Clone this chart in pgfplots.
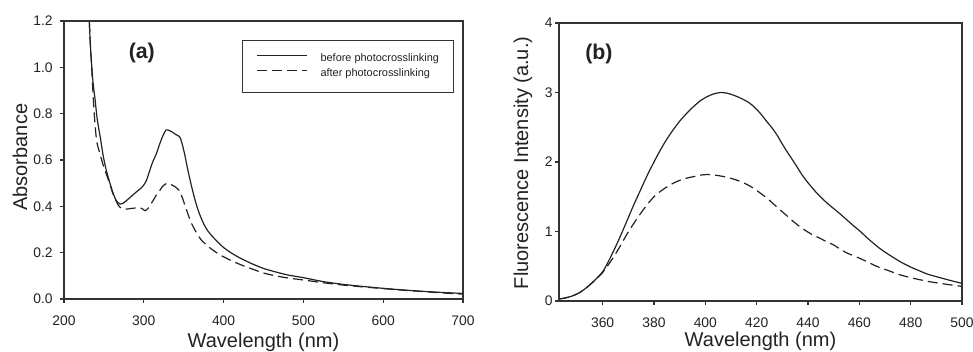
\documentclass[border=0pt]{standalone}
\usepackage{fontspec}
\setmainfont{Liberation Sans}
\usepackage{pgfplots}
\pgfplotsset{compat=1.18}
\definecolor{ink}{HTML}{222222}
\definecolor{axframe}{HTML}{333333}
\pgfplotsset{
  myaxis/.style={
    scale only axis,
    axis line style={draw=axframe, line width=0.9pt},
    tick align=outside,
    xtick pos=bottom, ytick pos=left,
    major tick length=2.8pt,
    tick style={draw=axframe, line width=0.8pt},
    minor tick num=0,
    /pgf/number format/assume math mode=true,
    tick label style={font=\fontsize{10.4}{12}\selectfont, text=ink},
    label style={font=\fontsize{15}{18}\selectfont, text=ink},
    clip=true,
  },
  solidline/.style={ink, line width=0.9pt, smooth, tension=0.4},
  dashline/.style={ink, line width=0.9pt, smooth, tension=0.4, dash pattern=on 7.5pt off 3.8pt},
}
\begin{document}
\begin{tikzpicture}
\useasboundingbox (0,0) rectangle (729.75pt,264pt);
% ---------------- panel (a) ----------------
\begin{axis}[myaxis, name=A,
  at={(48pt,39.75pt)}, anchor=south west,
  width=299.25pt, height=208.5pt,
  xmin=200, xmax=700, ymin=0, ymax=1.2,
  xtick={200,300,400,500,600,700},
  ytick={0,0.2,0.4,0.6,0.8,1.0,1.2},
  yticklabel style={/pgf/number format/fixed, /pgf/number format/fixed zerofill, /pgf/number format/precision=1, xshift=-2.2pt},
  xticklabel style={yshift=-6pt},
  xlabel={Wavelength (nm)},
  ylabel={Absorbance},
  xlabel style={at={(axis description cs:0.5,0)}, anchor=center, yshift=-32.25pt},
  ylabel style={at={(axis description cs:0,0.51)}, anchor=center, yshift=33pt},
  legend style={at={(axis description cs:0.446,0.932)}, anchor=north west,
    draw=axframe, line width=0.6pt, fill=white,
    inner xsep=10.5pt, inner ysep=10.3pt,
    font=\fontsize{8.2}{9.8}\selectfont, text=ink,
    nodes={inner sep=0pt}, row sep=3.5pt, column sep=9.75pt},
  legend cell align=left,
  legend image code/.code={\draw[#1] (0pt,2.4pt) -- (37.5pt,2.4pt);},
]
\addplot[solidline] coordinates {
(231,1.26) (231.7,1.2) (233,1.10) (234.7,1.01) (236.5,0.93) (238.8,0.866) (241.5,0.78)
(246,0.686) (249,0.62) (252,0.57) (255,0.53) (258,0.495) (261,0.462) (264,0.435)
(267,0.418) (270,0.410) (274,0.413) (279,0.427) (285,0.445) (291,0.463) (297,0.48)
(300,0.492) (303.6,0.514) (307,0.55) (311,0.59) (316,0.629) (320,0.67) (324,0.705)
(328,0.73) (332,0.727) (336,0.72) (340,0.71) (345,0.70) (348,0.67) (351,0.628)
(355,0.56) (360,0.484) (364,0.43) (368,0.384) (372,0.348) (376,0.318) (380,0.295)
(386,0.27) (393,0.245) (400,0.222) (410,0.198) (420,0.178) (435,0.153) (450,0.132)
(465,0.117) (480,0.104) (500,0.092) (525,0.075) (550,0.063) (575,0.054) (600,0.046)
(625,0.039) (650,0.033) (675,0.028) (700,0.024)
};
\addlegendentry{before photocrosslinking\hspace{8pt}}
\addplot[dashline] coordinates {
(231,1.26) (231.7,1.2) (233,1.10) (234.5,1.01) (236.7,0.866) (238.5,0.77) (241,0.679)
(244,0.64) (247.2,0.60) (250,0.568) (254,0.53) (257.6,0.495) (261,0.458) (265,0.425)
(268,0.405) (272,0.391) (278,0.388) (284.8,0.391) (290,0.393) (295,0.394) (298,0.39)
(301.5,0.381) (305,0.39) (308,0.405) (312,0.427) (316,0.45) (320.3,0.47) (324,0.488)
(328.7,0.499) (333,0.496) (339,0.485) (344,0.47) (348,0.44) (352,0.40) (356,0.36)
(360,0.325) (364,0.298) (368,0.275) (372,0.255) (378,0.235) (385,0.215) (393,0.196)
(400,0.182) (412,0.162) (425,0.143) (441,0.123) (450,0.112) (465,0.100) (480,0.091)
(500,0.082) (525,0.070) (550,0.060) (575,0.052) (600,0.045) (625,0.038) (650,0.032)
(675,0.026) (700,0.021)
};
\addlegendentry{after photocrosslinking}
\node[font=\bfseries\fontsize{16}{19}\selectfont, text=ink] at (axis description cs:0.195,0.885) {(a)};
\end{axis}
% ---------------- panel (b) ----------------
\begin{axis}[myaxis, name=B,
  at={(419.25pt,38.25pt)}, anchor=south west,
  width=302.25pt, height=208.5pt,
  xmin=343, xmax=500, ymin=0, ymax=4,
  xtick={360,380,400,420,440,460,480,500},
  ytick={0,1,2,3,4},
  yticklabel style={xshift=1.5pt},
  xticklabel style={yshift=-6.5pt},
  xlabel={Wavelength (nm)},
  ylabel={Fluorescence Intensity (a.u.)},
  xlabel style={at={(axis description cs:0.5,0)}, anchor=center, yshift=-30.5pt},
  ylabel style={at={(axis description cs:0,0.497)}, anchor=center, yshift=27pt},
]
\addplot[solidline] coordinates {
(343,0.03) (345,0.04) (348,0.07) (351,0.12) (354,0.2) (357,0.3) (360,0.42) (362,0.55)
(364.4,0.73) (367,0.94) (369.6,1.165) (372.2,1.39) (374.8,1.60) (377.4,1.81) (380,2.00)
(382.6,2.18) (385.2,2.34) (387.8,2.48) (390.3,2.60) (393,2.71) (395.5,2.80) (398,2.88)
(400.7,2.94) (403.3,2.98) (405.9,3.00) (408.5,2.99) (411.1,2.96) (413.7,2.92)
(416.3,2.87) (418.2,2.82) (420.2,2.75) (422.1,2.67) (424,2.58) (426,2.49) (427.9,2.39)
(429.8,2.27) (431.8,2.15) (433.8,2.04) (435.7,1.93) (437.6,1.82) (439.6,1.72)
(441.5,1.635) (443.5,1.55) (445.4,1.48) (447.4,1.41) (450,1.33) (452.6,1.25)
(455.2,1.165) (457.8,1.08) (460.4,1.0) (463,0.91) (465.5,0.83) (468,0.755)
(470.7,0.686) (473.3,0.625) (475.9,0.566) (478.5,0.515) (481.1,0.47) (483.7,0.43)
(486.3,0.39) (489,0.36) (491.5,0.335) (495.5,0.295) (500,0.254)
};
\addplot[dashline] coordinates {
(343,0.03) (345,0.04) (348,0.07) (351,0.12) (354,0.2) (357,0.3) (360,0.41) (362,0.51)
(364.4,0.64) (367,0.80) (369.6,0.97) (372.2,1.12) (374.8,1.26) (377.4,1.39) (380,1.50)
(382.6,1.58) (385.2,1.645) (387.8,1.70) (390.3,1.74) (393,1.77) (395.5,1.79) (398,1.81)
(400.7,1.82) (404,1.81) (407.2,1.79) (410.5,1.76) (413.7,1.72) (416.3,1.675)
(418.9,1.62) (421.5,1.55) (424,1.48) (426.6,1.395) (429.2,1.31) (431.8,1.225)
(434.4,1.14) (437,1.065) (439.6,1.00) (442.2,0.945) (444.8,0.90) (447.4,0.85)
(450,0.806) (452.6,0.745) (455.2,0.69) (457.8,0.65) (460.4,0.61) (463,0.565)
(465.5,0.52) (468,0.48) (470.7,0.446) (473.3,0.41) (475.9,0.376) (478.5,0.35)
(481.1,0.326) (483.7,0.305) (486.3,0.285) (489,0.268) (491.5,0.254) (495.5,0.232)
(500,0.21)
};
\node[font=\bfseries\fontsize{16}{19}\selectfont, text=ink] at (axis description cs:0.099,0.89) {(b)};
\end{axis}
\draw[axframe, line width=0.9pt] (A.south west) rectangle (A.north east);
\draw[axframe, line width=0.9pt] (B.south west) rectangle (B.north east);
\end{tikzpicture}
\end{document}
